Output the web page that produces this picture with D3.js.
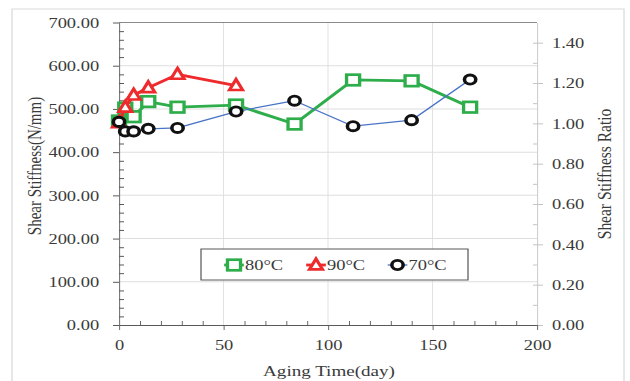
<!DOCTYPE html>
<html>
<head>
<meta charset="utf-8">
<script src="https://cdn.jsdelivr.net/npm/d3@7"></script>
<style>
  body { margin: 0; background: #fff; }
  text { font-family: "Liberation Serif", "Times New Roman", serif; fill: #3a3a3a; }
</style>
</head>
<body>
<svg id="chart" width="630" height="381"></svg>
<script>
// data
const days = [0, 3, 7, 14, 28, 56, 84, 112, 140, 168];
const days90 = [0, 3, 7, 14, 28, 56];
const stiff80 = [472, 502, 482, 517, 504, 509, 465, 567, 565, 504];
const stiff90 = [468, 504, 532, 549, 580, 554];
const stiff70 = [470, 448, 448, 454, 456, 494, 519, 460, 474, 568];

const xTicks = [0, 50, 100, 150, 200];
const yLeftTicks = [0, 100, 200, 300, 400, 500, 600, 700];
const yRightTicks = [0, 0.2, 0.4, 0.6, 0.8, 1.0, 1.2, 1.4];

const series = [
    { name: "80°C", x: days, y: stiff80, color: "#2ead4b", lw: 2.8, marker: "square" },
    { name: "90°C", x: days90, y: stiff90, color: "#ee2a2c", lw: 2.8, marker: "triangle" },
    { name: "70°C", x: days, y: stiff70, color: "#4a74c6", lw: 1.3, marker: "circle", mcolor: "#111" }
];

// the original picture is stretched sideways, so everything is drawn in a squeezed space
const S = 1.23;
const L = 119 / S, R = 537 / S, T = 22.5, B = 325;

const svg = d3.select("#chart");
svg.append("rect").attr("width", 630).attr("height", 381).attr("fill", "#fff");
const g = svg.append("g").attr("transform", `scale(${S},1)`);

g.append("rect")
    .attr("x", 12 / S).attr("y", 9)
    .attr("width", (624 - 12) / S).attr("height", 400)
    .attr("fill", "none").attr("stroke", "#d9d9d9");

const x = d3.scaleLinear().domain([0, 200]).range([L, R]);
const yL = d3.scaleLinear().domain([0, 700]).range([B, T]);
const yR = d3.scaleLinear().domain([0, 1.5]).range([B, T]);

// grid
g.selectAll(".hgrid").data(yLeftTicks.slice(1, -1)).enter().append("line")
    .attr("x1", L).attr("x2", R)
    .attr("y1", d => yL(d)).attr("y2", d => yL(d))
    .attr("stroke", "#dedede").attr("stroke-width", 1);
g.selectAll(".vgrid").data(xTicks.slice(1, -1)).enter().append("line")
    .attr("x1", d => x(d)).attr("x2", d => x(d))
    .attr("y1", T).attr("y2", B)
    .attr("stroke", "#dedede").attr("stroke-width", 1 / S);
g.append("line")
    .attr("x1", L).attr("x2", R).attr("y1", T).attr("y2", T)
    .attr("stroke", "#8a8a8a").attr("stroke-width", 1);

function styleAxis(sel, color) {
    sel.selectAll("path").attr("stroke", color);
    sel.selectAll("line").attr("stroke", color);
    sel.selectAll("text").attr("fill", "#3a3a3a")
        .style("font-family", "Liberation Serif").style("font-size", "15px");
}

// left axis
const leftAx = g.append("g").attr("transform", `translate(${L},0)`)
    .call(d3.axisLeft(yL).tickValues(yLeftTicks).tickFormat(d => d.toFixed(2))
        .tickSizeInner(6 / S).tickSizeOuter(0).tickPadding(11.3));
styleAxis(leftAx, "#595959");
leftAx.selectAll("path").attr("stroke-width", 1 / S);
const leftMinor = d3.range(0, 701, 20).filter(d => d % 100 !== 0);
g.append("g").attr("transform", `translate(${L},0)`)
    .call(d3.axisLeft(yL).tickValues(leftMinor).tickFormat("").tickSizeInner(-5 / S).tickSizeOuter(0))
    .call(a => { a.select("path").remove(); a.selectAll("line").attr("stroke", "#595959"); });

// right axis
const rightAx = g.append("g").attr("transform", `translate(${R},0)`)
    .call(d3.axisRight(yR).tickValues(yRightTicks).tickFormat(d => d.toFixed(2))
        .tickSizeInner(6 / S).tickSizeOuter(0).tickPadding(7.3));
styleAxis(rightAx, "#c4c4c4");
rightAx.selectAll("path").attr("stroke-width", 1 / S);
rightAx.selectAll(".tick line").attr("x1", -4 / S);
const rightMinor = d3.range(1, 15, 2).map(d => d / 10);
g.append("g").attr("transform", `translate(${R},0)`)
    .call(d3.axisRight(yR).tickValues(rightMinor).tickFormat("").tickSizeInner(-4 / S).tickSizeOuter(0))
    .call(a => { a.select("path").remove(); a.selectAll("line").attr("stroke", "#c4c4c4"); });

// bottom axis
const botAx = g.append("g").attr("transform", `translate(0,${B})`)
    .call(d3.axisBottom(x).tickValues(xTicks).tickSizeInner(5).tickSizeOuter(0).tickPadding(9.8));
styleAxis(botAx, "#595959");
botAx.selectAll(".tick line").attr("stroke-width", 1 / S);
const xMinor = d3.range(0, 201, 10).filter(d => d % 50 !== 0);
g.append("g").attr("transform", `translate(0,${B})`)
    .call(d3.axisBottom(x).tickValues(xMinor).tickFormat("").tickSizeInner(-4).tickSizeOuter(0))
    .call(a => { a.select("path").remove(); a.selectAll("line").attr("stroke", "#595959").attr("stroke-width", 1 / S); });

// titles
g.append("text")
    .attr("transform", `translate(${35 / S},166) rotate(-90)`)
    .attr("text-anchor", "middle").attr("dominant-baseline", "central")
    .style("font-size", "15px")
    .text("Shear Stiffness(N/mm)");
g.append("text")
    .attr("transform", `translate(${605 / S},174) rotate(-90)`)
    .attr("text-anchor", "middle").attr("dominant-baseline", "central")
    .style("font-size", "15.5px")
    .text("Shear Stiffness Ratio");
g.append("text")
    .attr("x", 329 / S).attr("y", 376)
    .attr("text-anchor", "middle")
    .style("font-size", "15.5px")
    .text("Aging Time(day)");

// markers
function drawMarker(sel, type, color) {
    if (type === "square") {
        sel.append("rect").attr("x", -5.3).attr("y", -5.3).attr("width", 10.6).attr("height", 10.6)
            .attr("fill", "#fff").attr("stroke", color).attr("stroke-width", 2.7);
    } else if (type === "triangle") {
        sel.append("path").attr("d", "M0,-6.2L5.3,4.4L-5.3,4.4Z")
            .attr("fill", "#fff").attr("stroke", color).attr("stroke-width", 2.7)
            .attr("stroke-linejoin", "miter");
    } else {
        sel.append("circle").attr("r", 4.6)
            .attr("fill", "#fff").attr("stroke", color).attr("stroke-width", 2.9);
    }
}

const line = d3.line().x(d => x(d[0])).y(d => yL(d[1]));

series.forEach(s => {
    const pts = s.x.map((d, i) => [d, s.y[i]]);
    g.append("path").datum(pts)
        .attr("d", line).attr("fill", "none")
        .attr("stroke", s.color).attr("stroke-width", s.lw).attr("stroke-linejoin", "round");
    g.selectAll(null).data(pts).enter().append("g")
        .attr("transform", d => `translate(${x(d[0])},${yL(d[1])})`)
        .each(function () { drawMarker(d3.select(this), s.marker, s.mcolor || s.color); });
});

// legend
const leg = g.append("g");
leg.append("rect")
    .attr("x", 201 / S).attr("y", 249)
    .attr("width", (468 - 201) / S).attr("height", 31)
    .attr("fill", "#fff").attr("stroke", "#595959").attr("stroke-width", 1);
const legX = [234, 316, 397.5];
series.forEach((s, i) => {
    const cx = legX[i] / S, cy = 265;
    leg.append("line")
        .attr("x1", cx - 8).attr("x2", cx + 8).attr("y1", cy).attr("y2", cy)
        .attr("stroke", s.color).attr("stroke-width", s.lw);
    const m = leg.append("g").attr("transform", `translate(${cx},${cy})`);
    drawMarker(m, s.marker, s.mcolor || s.color);
    leg.append("text")
        .attr("x", cx + 9).attr("y", cy).attr("dy", "0.35em")
        .style("font-size", "15px")
        .text(s.name);
});
</script>
</body>
</html>
